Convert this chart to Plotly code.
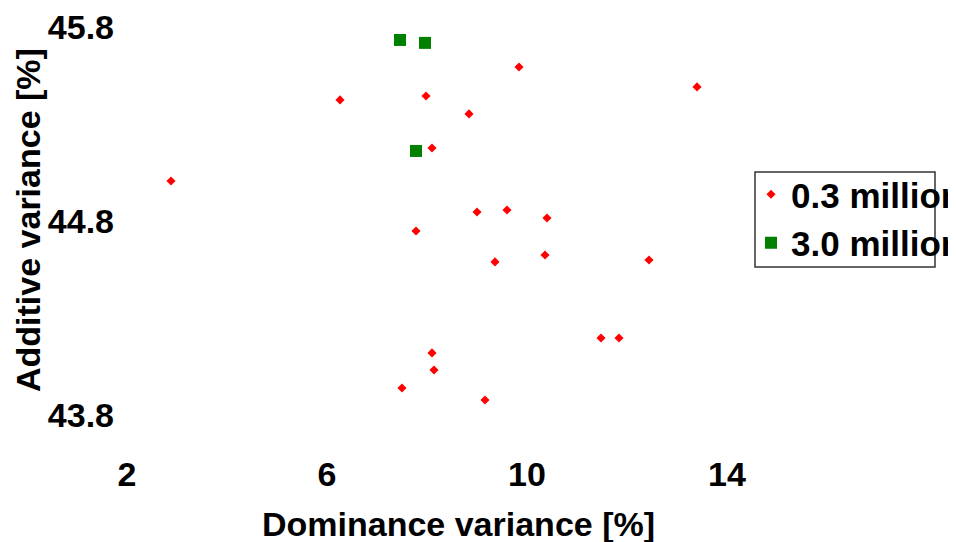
import plotly.graph_objects as go

# Data
x_03 = [9.84, 13.40, 6.26, 7.98, 8.84, 8.10, 2.88, 9.00, 9.60, 10.40,
        7.78, 10.36, 9.36, 12.44, 11.48, 11.84, 8.10, 8.14, 7.50, 9.16]
y_03 = [45.594, 45.491, 45.424, 45.444, 45.352, 45.176, 45.006, 44.846, 44.857, 44.815,
        44.748, 44.625, 44.589, 44.599, 44.197, 44.197, 44.120, 44.032, 43.939, 43.877]
x_30 = [7.46, 7.96, 7.78]
y_30 = [45.733, 45.718, 45.161]

series_names = ["0.3 million", "3.0 million"]
x_ticks = [2, 6, 10, 14]
y_ticks = [43.8, 44.8, 45.8]
x_title = "Dominance variance [%]"
y_title = "Additive variance [%]"

FONT = "Liberation Sans, Arial, sans-serif"

# page body margin offsets the figure by 8px
OFF = 8
W, H = 956 - OFF, 542 - OFF
# plot area in page pixels: x 120..728, y 26..415
PL, PR, PT, PB = 120, 728, 26, 415
L = PL - OFF
T = PT - OFF
R = W - (PR - OFF)
B = H - (PB - OFF)
pw = PR - PL
ph = PB - PT


def px2paper_x(px):
    return (px - PL) / pw


def px2paper_y(py):
    return (PB - py) / ph


fig = go.Figure()
fig.add_trace(go.Scatter(x=x_03, y=y_03, mode="markers", name=series_names[0],
                         marker=dict(symbol="diamond", size=7, color="#ff0000")))
fig.add_trace(go.Scatter(x=x_30, y=y_30, mode="markers", name=series_names[1],
                         marker=dict(symbol="square", size=12, color="#008000")))

fig.update_layout(
    width=W, height=H,
    margin=dict(l=L, r=R, t=T, b=B, autoexpand=False),
    paper_bgcolor="white", plot_bgcolor="white",
    font=dict(family=FONT, size=34, color="black", weight="bold"),
    showlegend=True,
    legend=dict(x=px2paper_x(751), y=px2paper_y(165), xanchor="left", yanchor="top",
                bgcolor="rgba(0,0,0,0)", borderwidth=0,
                font=dict(family=FONT, size=35, color="black", weight="bold"),
                tracegroupgap=0),
    xaxis=dict(range=[1.86, 14.02], tickvals=x_ticks, ticktext=[str(v) for v in x_ticks],
               showgrid=False, zeroline=False, showline=False, ticks="",
               ticklabelstandoff=36, ticklabeloverflow="allow",
               tickfont=dict(family=FONT, size=34, color="black", weight="bold")),
    yaxis=dict(range=[43.8, 45.805], tickvals=y_ticks, ticktext=[f"{v:.1f}" for v in y_ticks],
               showgrid=False, zeroline=False, showline=False, ticks="",
               ticklabelstandoff=5, ticklabeloverflow="allow",
               tickfont=dict(family=FONT, size=34, color="black", weight="bold")),
    shapes=[dict(type="rect", xref="paper", yref="paper",
                 x0=px2paper_x(755), x1=px2paper_x(935),
                 y0=px2paper_y(267), y1=px2paper_y(172),
                 line=dict(color="#333333", width=1.5), fillcolor="rgba(0,0,0,0)")],
    annotations=[
        dict(text=x_title, xref="paper", yref="paper", x=px2paper_x(458), y=px2paper_y(524),
             xanchor="center", yanchor="middle", showarrow=False,
             font=dict(family=FONT, size=34, color="black", weight="bold")),
        dict(text=y_title, xref="paper", yref="paper", x=px2paper_x(28), y=px2paper_y(220),
             xanchor="center", yanchor="middle", showarrow=False, textangle=-90,
             font=dict(family=FONT, size=34, color="black", weight="bold")),
    ],
)

fig.write_html("out.html")
